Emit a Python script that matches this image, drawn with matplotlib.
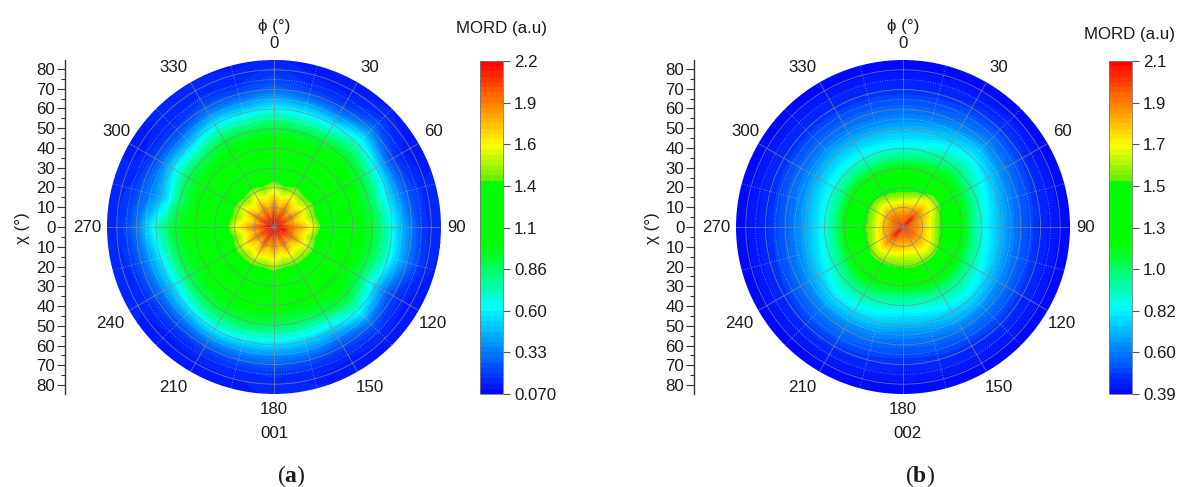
import numpy as np
import matplotlib
matplotlib.use("Agg")
import matplotlib.pyplot as plt
from matplotlib.colors import LinearSegmentedColormap

plt.rcParams['font.family'] = ['Liberation Sans', 'DejaVu Sans']
plt.rcParams['mathtext.fontset'] = 'custom'
plt.rcParams['mathtext.bf'] = 'Liberation Serif:bold'
plt.rcParams['mathtext.rm'] = 'Liberation Serif'

W, H = 1178, 487

phi_deg = [0, 15, 30, 45, 60, 75, 90, 105, 120, 135, 150, 165,
           180, 195, 210, 225, 240, 255, 270, 285, 300, 315, 330, 345]

chi_a = [0, 5, 10, 15, 20, 25, 30, 40, 50, 55, 60, 65, 70, 75, 80, 85]
mord_a = [
    [2.18, 2.12, 1.98, 1.76, 1.58, 1.34, 1.24, 1.10, 0.94, 0.80, 0.62, 0.44, 0.30, 0.22, 0.18, 0.14],
    [2.18, 1.96, 1.78, 1.66, 1.46, 1.30, 1.22, 1.08, 0.92, 0.76, 0.58, 0.40, 0.24, 0.16, 0.13, 0.12],
    [2.18, 2.10, 1.96, 1.76, 1.56, 1.34, 1.24, 1.10, 0.94, 0.78, 0.58, 0.38, 0.22, 0.14, 0.13, 0.12],
    [2.18, 1.98, 1.80, 1.64, 1.48, 1.30, 1.22, 1.12, 0.98, 0.86, 0.70, 0.52, 0.34, 0.22, 0.16, 0.13],
    [2.18, 2.10, 1.94, 1.74, 1.54, 1.32, 1.22, 1.10, 0.94, 0.78, 0.58, 0.34, 0.20, 0.14, 0.12, 0.13],
    [2.18, 1.94, 1.76, 1.66, 1.50, 1.28, 1.20, 1.06, 0.90, 0.74, 0.55, 0.38, 0.26, 0.18, 0.14, 0.14],
    [2.18, 2.08, 1.94, 1.78, 1.62, 1.34, 1.22, 1.08, 0.94, 0.82, 0.64, 0.46, 0.32, 0.20, 0.15, 0.14],
    [2.18, 2.14, 1.86, 1.68, 1.48, 1.30, 1.22, 1.08, 0.94, 0.82, 0.66, 0.48, 0.34, 0.22, 0.15, 0.13],
    [2.18, 2.12, 1.98, 1.76, 1.56, 1.32, 1.20, 1.06, 0.88, 0.70, 0.50, 0.32, 0.20, 0.14, 0.12, 0.13],
    [2.18, 1.98, 1.80, 1.64, 1.52, 1.30, 1.22, 1.10, 0.96, 0.84, 0.66, 0.46, 0.28, 0.18, 0.13, 0.13],
    [2.18, 2.10, 1.94, 1.72, 1.50, 1.30, 1.20, 1.08, 0.90, 0.70, 0.52, 0.34, 0.22, 0.15, 0.12, 0.13],
    [2.18, 1.94, 1.78, 1.64, 1.46, 1.28, 1.18, 1.04, 0.86, 0.70, 0.52, 0.38, 0.24, 0.16, 0.13, 0.14],
    [2.18, 2.08, 1.92, 1.72, 1.54, 1.30, 1.20, 1.06, 0.88, 0.72, 0.54, 0.38, 0.27, 0.18, 0.15, 0.14],
    [2.18, 1.96, 1.80, 1.66, 1.46, 1.28, 1.20, 1.06, 0.92, 0.76, 0.56, 0.38, 0.25, 0.16, 0.13, 0.13],
    [2.18, 2.12, 1.96, 1.74, 1.52, 1.30, 1.22, 1.08, 0.92, 0.78, 0.60, 0.40, 0.24, 0.15, 0.13, 0.13],
    [2.18, 1.96, 1.78, 1.66, 1.50, 1.30, 1.20, 1.08, 0.92, 0.76, 0.56, 0.36, 0.22, 0.14, 0.12, 0.13],
    [2.18, 2.10, 1.94, 1.74, 1.54, 1.30, 1.20, 1.04, 0.88, 0.70, 0.52, 0.36, 0.24, 0.16, 0.14, 0.14],
    [2.18, 1.96, 1.82, 1.64, 1.46, 1.30, 1.20, 1.06, 0.92, 0.76, 0.56, 0.40, 0.27, 0.18, 0.15, 0.14],
    [2.18, 2.10, 1.94, 1.76, 1.62, 1.32, 1.22, 1.08, 0.96, 0.84, 0.68, 0.50, 0.32, 0.22, 0.17, 0.14],
    [2.18, 1.94, 1.76, 1.64, 1.50, 1.28, 1.18, 1.04, 0.84, 0.60, 0.44, 0.34, 0.26, 0.18, 0.16, 0.15],
    [2.18, 2.12, 1.94, 1.74, 1.54, 1.30, 1.20, 1.06, 0.90, 0.72, 0.54, 0.34, 0.22, 0.14, 0.12, 0.13],
    [2.18, 1.96, 1.78, 1.64, 1.46, 1.28, 1.20, 1.06, 0.88, 0.70, 0.50, 0.32, 0.20, 0.15, 0.14, 0.14],
    [2.18, 2.10, 1.94, 1.74, 1.56, 1.30, 1.22, 1.08, 0.94, 0.78, 0.60, 0.40, 0.26, 0.18, 0.15, 0.14],
    [2.18, 1.94, 1.78, 1.66, 1.46, 1.30, 1.22, 1.08, 0.92, 0.76, 0.56, 0.38, 0.24, 0.16, 0.14, 0.13],
]

chi_b = [0, 5, 10, 15, 20, 25, 30, 35, 40, 45, 50, 55, 60, 70, 80, 85]
mord_b = [
    [2.00, 1.88, 1.78, 1.56, 1.42, 1.28, 1.14, 1.00, 0.87, 0.78, 0.70, 0.63, 0.57, 0.47, 0.41, 0.39],
    [2.00, 1.90, 1.78, 1.58, 1.43, 1.28, 1.15, 1.02, 0.90, 0.80, 0.72, 0.64, 0.57, 0.47, 0.41, 0.39],
    [2.02, 1.94, 1.80, 1.66, 1.46, 1.30, 1.18, 1.06, 0.96, 0.86, 0.77, 0.68, 0.60, 0.48, 0.41, 0.39],
    [2.08, 2.04, 1.88, 1.72, 1.58, 1.34, 1.20, 1.10, 1.00, 0.90, 0.82, 0.72, 0.63, 0.50, 0.42, 0.39],
    [2.02, 1.94, 1.80, 1.70, 1.54, 1.32, 1.18, 1.06, 0.95, 0.85, 0.76, 0.67, 0.60, 0.48, 0.41, 0.39],
    [2.00, 1.90, 1.78, 1.62, 1.46, 1.30, 1.16, 1.02, 0.90, 0.80, 0.71, 0.63, 0.56, 0.47, 0.41, 0.39],
    [2.00, 1.90, 1.78, 1.60, 1.44, 1.30, 1.16, 1.00, 0.87, 0.78, 0.70, 0.62, 0.55, 0.46, 0.41, 0.39],
    [2.00, 1.90, 1.78, 1.62, 1.45, 1.30, 1.16, 1.02, 0.90, 0.80, 0.71, 0.63, 0.56, 0.46, 0.41, 0.39],
    [2.00, 1.92, 1.80, 1.66, 1.50, 1.30, 1.18, 1.04, 0.93, 0.83, 0.74, 0.65, 0.58, 0.47, 0.41, 0.39],
    [2.00, 1.92, 1.80, 1.68, 1.54, 1.30, 1.18, 1.06, 0.96, 0.87, 0.78, 0.68, 0.60, 0.48, 0.41, 0.39],
    [2.00, 1.90, 1.78, 1.64, 1.52, 1.30, 1.18, 1.05, 0.94, 0.85, 0.76, 0.67, 0.59, 0.47, 0.41, 0.39],
    [2.00, 1.88, 1.76, 1.60, 1.52, 1.30, 1.16, 1.02, 0.90, 0.81, 0.72, 0.64, 0.57, 0.47, 0.41, 0.39],
    [2.00, 1.88, 1.76, 1.60, 1.50, 1.28, 1.14, 1.00, 0.88, 0.79, 0.70, 0.62, 0.56, 0.46, 0.41, 0.39],
    [2.00, 1.88, 1.78, 1.62, 1.50, 1.30, 1.15, 1.02, 0.92, 0.83, 0.74, 0.65, 0.58, 0.47, 0.41, 0.39],
    [2.02, 1.94, 1.80, 1.66, 1.52, 1.30, 1.17, 1.06, 0.96, 0.86, 0.77, 0.67, 0.60, 0.48, 0.41, 0.39],
    [2.08, 2.04, 1.86, 1.70, 1.54, 1.32, 1.18, 1.06, 0.96, 0.87, 0.78, 0.68, 0.60, 0.48, 0.41, 0.39],
    [2.02, 1.94, 1.80, 1.64, 1.48, 1.30, 1.16, 1.02, 0.92, 0.82, 0.73, 0.65, 0.58, 0.47, 0.41, 0.39],
    [2.00, 1.88, 1.78, 1.60, 1.44, 1.30, 1.15, 1.00, 0.88, 0.78, 0.70, 0.62, 0.56, 0.46, 0.41, 0.39],
    [2.00, 1.88, 1.76, 1.58, 1.44, 1.30, 1.14, 0.98, 0.86, 0.76, 0.68, 0.61, 0.55, 0.46, 0.41, 0.39],
    [2.00, 1.88, 1.76, 1.58, 1.44, 1.30, 1.14, 0.98, 0.86, 0.77, 0.69, 0.62, 0.56, 0.46, 0.41, 0.39],
    [2.00, 1.90, 1.78, 1.60, 1.46, 1.30, 1.16, 1.00, 0.88, 0.79, 0.71, 0.63, 0.57, 0.47, 0.41, 0.39],
    [2.00, 1.92, 1.80, 1.64, 1.46, 1.30, 1.16, 1.02, 0.90, 0.80, 0.72, 0.64, 0.57, 0.47, 0.41, 0.39],
    [2.00, 1.90, 1.78, 1.60, 1.43, 1.28, 1.14, 1.00, 0.88, 0.79, 0.71, 0.63, 0.57, 0.47, 0.41, 0.39],
    [2.00, 1.88, 1.76, 1.56, 1.42, 1.27, 1.14, 1.00, 0.87, 0.78, 0.70, 0.62, 0.57, 0.47, 0.41, 0.39],
]

phi_ticks = [0, 30, 60, 90, 120, 150, 180, 210, 240, 270, 300, 330]
# pixel offsets of the phi labels from the circle centre
phi_label_dx = [0, 96, 159, 183, 159, 96, 0, -101, -164, -187, -158, -101]
phi_label_dy = [-183, -160, -96, 0, 96, 160, 183, 160, 96, 0, -96, -160]
chi_ticks = [-80, -70, -60, -50, -40, -30, -20, -10, 0, 10, 20, 30, 40, 50, 60, 70, 80]
cbar_labels_a = ['0.070', '0.33', '0.60', '0.86', '1.1', '1.4', '1.6', '1.9', '2.2']
cbar_labels_b = ['0.39', '0.60', '0.82', '1.0', '1.3', '1.5', '1.7', '1.9', '2.1']

jet_like = LinearSegmentedColormap.from_list('mord', [
    (0.0, (0, 0, 1)), (0.26, (0, 1, 1)), (0.45, (0, 1, 0)), (0.645, (0, 1, 0)),
    (0.65, (0.42, 0.94, 0)), (0.75, (1, 1, 0)), (1.0, (1, 0, 0))], N=256)


def rect(x0, y0, x1, y1):
    return [x0 / W, 1 - y1 / H, (x1 - x0) / W, (y1 - y0) / H]


def ftext(x, y, s, **kw):
    kw.setdefault('fontsize', 12.2)
    fig.text(x / W, 1 - y / H, s, ha='center', va='center', color='#1a1a1a', **kw)


def panel(cx, mord, chi, vmin, vmax, labels, sample, letter, title_y):
    R = 167
    cy = 227
    off = cx - 274
    ax = fig.add_axes(rect(cx - R, cy - R, cx + R, cy + R), projection='polar')
    ax.set_theta_zero_location('N')
    ax.set_theta_direction(-1)

    th = np.radians(phi_deg + [360])
    z = np.array(mord)
    z = np.vstack([z, z[0]])
    levels = np.linspace(vmin, vmax, 65)
    cf = ax.contourf(th, chi, z.T, levels=levels, cmap=jet_like)
    # bend the filled paths along the polar axes, otherwise the rim is a polygon
    for path in cf.get_paths():
        path._interpolation_steps = 16
    ax.set_ylim(0, 85)

    # solid grid
    ax.set_rticks([10, 20, 30, 40, 50, 60, 70, 80])
    ax.set_thetagrids(phi_ticks, labels=[])
    ax.set_yticklabels([])
    ax.grid(True, color='#7f8c8c', lw=0.6, alpha=0.8)
    ax.spines['polar'].set_visible(False)

    # dotted minor grid near the rim
    tt = np.linspace(0, 2 * np.pi, 361)
    for r in [55, 65, 75]:
        ax.plot(tt, np.full_like(tt, r), color='#d8e4f4', lw=0.6, ls=(0, (1, 2)), alpha=0.6)
    for p in phi_ticks:
        a = np.radians(p + 15)
        ax.plot([a, a], [55, 85], color='#d8e4f4', lw=0.6, ls=(0, (1, 2)), alpha=0.6)

    # phi labels
    for p, dx, dy in zip(phi_ticks, phi_label_dx, phi_label_dy):
        ftext(cx + dx, cy + dy, str(p))

    # chi axis
    axc = fig.add_axes(rect(65 + off, 60, 66 + off, 394))
    axc.set_ylim(-84.5, 84.5)
    axc.set_xticks([])
    for s in ['top', 'bottom', 'right']:
        axc.spines[s].set_visible(False)
    axc.spines['left'].set_color('#333333')
    axc.spines['left'].set_linewidth(1.0)
    axc.set_yticks(chi_ticks)
    axc.set_yticklabels([str(abs(c)) for c in chi_ticks], fontsize=12.2, color='#1a1a1a')
    axc.set_yticks([c + 5 for c in chi_ticks[:-1]], minor=True)
    axc.tick_params(axis='y', which='major', length=5.5, width=0.8, pad=1.5, color='#333333')
    axc.tick_params(axis='y', which='minor', length=3, width=0.8, color='#333333')

    # colourbar
    bx = 480 + off
    cax = fig.add_axes(rect(bx, 61, bx + 23, 394))
    cb = fig.colorbar(cf, cax=cax, drawedges=False)
    ticks = np.linspace(vmin, vmax, 9)
    cb.set_ticks(ticks)
    cb.set_ticklabels(labels)
    cb.ax.tick_params(length=5, width=0.8, color='#555555', labelsize=12.2, labelcolor='#1a1a1a', pad=3)
    cb.outline.set_edgecolor('#777777')
    cb.outline.set_linewidth(0.6)

    ftext(cx, 26, '\u03d5 (\u00b0)')
    ftext(cx - 251, 228, '\u03c7 (\u00b0)', rotation=90)
    ftext(bx + 21, title_y, 'MORD (a.u)')
    ftext(cx + (0 if off == 0 else 4), 434, sample)
    ftext(cx + 17, 476, '($\\mathbf{' + letter + '}$)', family=['Liberation Serif'], fontsize=17)


fig = plt.figure(figsize=(W / 100, H / 100), dpi=100)
panel(274, mord_a, chi_a, 0.07, 2.2, cbar_labels_a, '001', 'a', 29)
panel(903, mord_b, chi_b, 0.39, 2.1, cbar_labels_b, '002', 'b', 34)
fig.savefig('out.png', dpi=100)
